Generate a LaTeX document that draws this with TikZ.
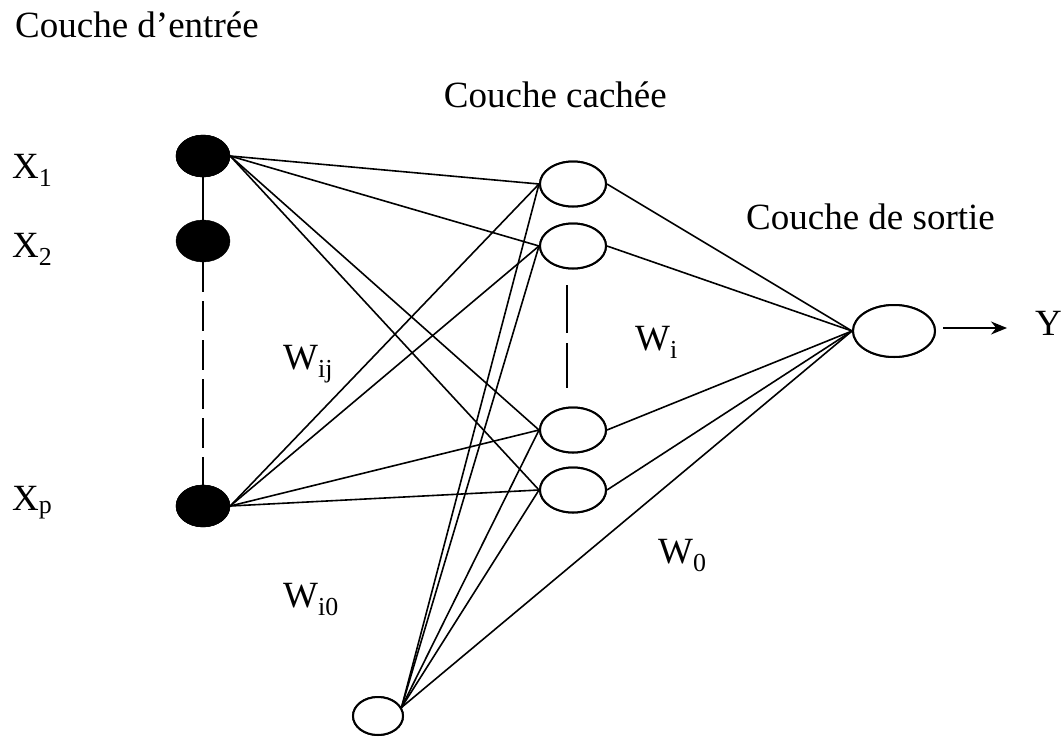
\documentclass[tikz,border=0pt]{standalone}
\usepackage{fontspec}
\setmainfont{Liberation Serif}
\usetikzlibrary{shapes.geometric,arrows.meta}
\begin{document}
\begin{tikzpicture}[x=1pt,y=-1pt,
  inp/.style={ellipse,fill=black,draw=black,minimum width=54pt,minimum height=42pt,inner sep=0pt},
  hid/.style={ellipse,fill=white,draw=black,line width=2pt,minimum width=66pt,minimum height=45pt,inner sep=0pt},
  conn/.style={line width=1.6pt},
  lbl/.style={font=\fontsize{37}{44}\selectfont,inner sep=0pt},
  dashv/.style={line width=1.8pt}]
\useasboundingbox (0,0) rectangle (1063,737);
% nodes
\node[inp] (x1) at (203,156) {};
\node[inp] (x2) at (203,241) {};
\node[inp] (xp) at (203,506) {};
\node[hid] (h1) at (573,184) {};
\node[hid] (h2) at (573,246) {};
\node[hid] (h3) at (573,430) {};
\node[hid] (h4) at (573,490) {};
\node[hid,minimum width=82pt,minimum height=52pt] (o) at (894,331) {};
\node[hid,minimum width=50pt,minimum height=38pt] (b) at (378,716) {};
\coordinate (bc) at (b.20);
\coordinate (yend) at (1007,328);
% connections
\foreach \h in {h1,h2,h3,h4}{
  \draw[conn] (x1.east) -- (\h.west);
  \draw[conn] (xp.east) -- (\h.west);
  \draw[conn] (bc) -- (\h.west);
  \draw[conn] (\h.east) -- (o.west);
}
\draw[conn] (bc) -- (o.west);
% redraw nodes on top
\node[inp] at (x1) {};
\node[inp] at (xp) {};
\node[hid] at (h1) {};
\node[hid] at (h2) {};
\node[hid] at (h3) {};
\node[hid] at (h4) {};
\node[hid,minimum width=82pt,minimum height=52pt] at (o) {};
\node[hid,minimum width=50pt,minimum height=38pt] at (b) {};
% vertical dashed lines
\draw[dashv] (x1.south) -- (x2.north);
\draw[dashv,dash pattern=on 30pt off 9pt] (x2.south) -- (xp.north);
\draw[dashv,dash pattern=on 48pt off 10pt] (567,285) -- (567,388);
% output arrow
\draw[conn,-{Stealth[length=16pt,width=13pt]}] (943,328) -- (yend);
% labels
\node[lbl,anchor=base west] (t1) at (15,37) {Couche d’entrée};
\node[lbl,anchor=base east] (t2) at (667,107) {Couche cachée};
\node[lbl,anchor=base east] (t3) at (995,229) {Couche de sortie};
\node[lbl,anchor=base west] (lx1) at (12,178) {X\textsubscript{1}};
\node[lbl,anchor=base west] (lx2) at (12,257) {X\textsubscript{2}};
\node[lbl,anchor=base west] (lxp) at (12,510) {X\textsubscript{p}};
\node[lbl,anchor=base west] (ly) at (1035,335) {Y};
\node[lbl,anchor=base west] (wij) at (283,369) {W\textsubscript{ij}};
\node[lbl,anchor=base west] (wi) at (635,350) {W\textsubscript{i}};
\node[lbl,anchor=base west] (w0) at (658,563) {W\textsubscript{0}};
\node[lbl,anchor=base west] (wi0) at (283,607) {W\textsubscript{i0}};
\end{tikzpicture}
\end{document}
